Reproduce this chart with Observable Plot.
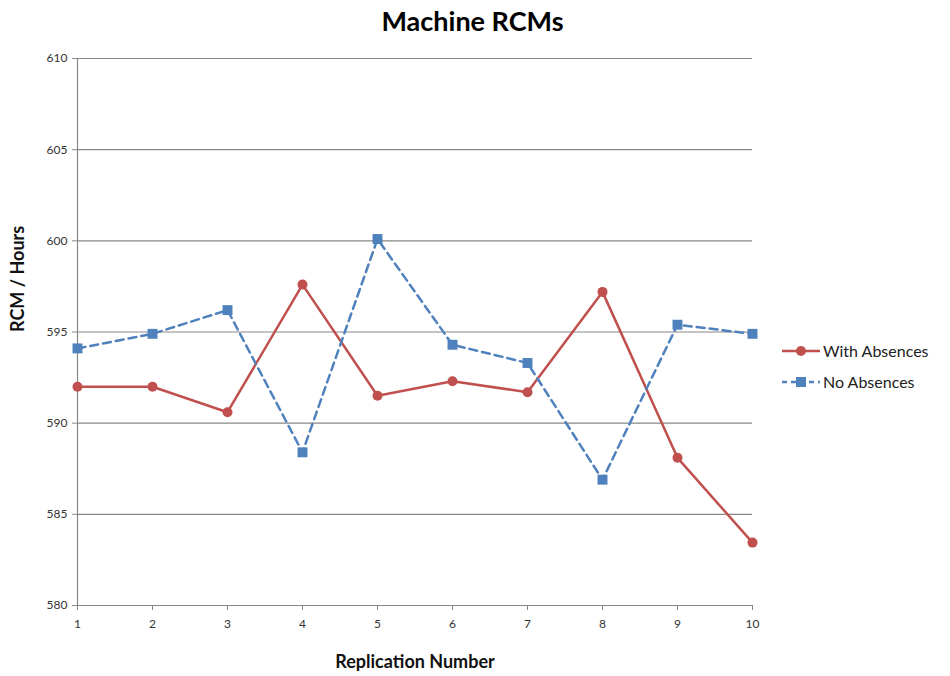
<!DOCTYPE html>
<html>
<head>
<meta charset="utf-8">
<script src="https://cdn.jsdelivr.net/npm/d3@7"></script>
<script src="https://cdn.jsdelivr.net/npm/@observablehq/plot@0.6"></script>
<style>
  body { margin: 0; background: #fff; font-family: Lato, "Open Sans", sans-serif; }
  #wrap { position: relative; width: 950px; height: 676px; }
  #title { position: absolute; left: 0; top: 4px; width: 945px; text-align: center; font-weight: bold; font-size: 27px; color: #000; }
  #chart { position: absolute; left: 0; top: 45px; }
  #legend { position: absolute; left: 782px; top: 335px; font-size: 16px; color: #222; }
  .li { display: flex; align-items: center; height: 31px; }
  .li svg { margin-right: 3px; }
</style>
</head>
<body>
<div id="wrap">
  <div id="title">Machine RCMs</div>
  <div id="chart"></div>
  <div id="legend"></div>
</div>
<script>
const replications = [1, 2, 3, 4, 5, 6, 7, 8, 9, 10];
const withAbsences = [592.0, 592.0, 590.6, 597.6, 591.5, 592.3, 591.7, 597.2, 588.1, 583.45];
const noAbsences = [594.1, 594.9, 596.2, 588.4, 600.1, 594.3, 593.3, 586.9, 595.4, 594.9];
const yTicks = [580, 585, 590, 595, 600, 605, 610];
const seriesNames = ["With Absences", "No Absences"];
const colors = ["#C0504D", "#4F81BD"];

const rows = [];
replications.forEach((r, i) => {
  rows.push({rep: r, value: withAbsences[i], series: seriesNames[0]});
  rows.push({rep: r, value: noAbsences[i], series: seriesNames[1]});
});
const red = rows.filter(d => d.series === seriesNames[0]);
const blue = rows.filter(d => d.series === seriesNames[1]);

const plot = Plot.plot({
  width: 950,
  height: 631,
  marginTop: 13,
  marginLeft: 77,
  marginRight: 198,
  marginBottom: 71,
  style: { fontFamily: "Lato, 'Open Sans', sans-serif", fontSize: "12px", color: "#333" },
  x: { type: "linear", domain: [1, 10] },
  y: { domain: [580, 610] },
  marks: [
    Plot.ruleY(yTicks.filter(t => t !== 580), { stroke: "#878787", strokeWidth: 1.2 }),
    Plot.ruleX([1], { stroke: "#878787", strokeWidth: 1.2 }),
    Plot.ruleY([580], { stroke: "#878787", strokeWidth: 1.2 }),
    Plot.axisY({ ticks: yTicks, tickSize: 5, tickPadding: 5, label: null, stroke: "#878787", fontSize: 12 }),
    Plot.axisX({ ticks: replications, tickSize: 5, tickPadding: 9, label: null, stroke: "#878787", fontSize: 12 }),
    Plot.text(["Replication Number"], { frameAnchor: "bottom", dy: 62, fontWeight: "bold", fontSize: 18, fill: "#111" }),
    Plot.text(["RCM / Hours"], { frameAnchor: "left", dx: -59, rotate: -90, fontWeight: "bold", fontSize: 18, fill: "#111" }),
    Plot.line(red, { x: "rep", y: "value", stroke: colors[0], strokeWidth: 2.5 }),
    Plot.dot(red, { x: "rep", y: "value", fill: colors[0], r: 5, symbol: "circle" }),
    Plot.line(blue, { x: "rep", y: "value", stroke: colors[1], strokeWidth: 2.5, strokeDasharray: "8,5" }),
    Plot.dot(blue, { x: "rep", y: "value", fill: colors[1], r: 5.6, symbol: "square" })
  ]
});
document.getElementById("chart").appendChild(plot);

const legend = document.getElementById("legend");
seriesNames.forEach((name, i) => {
  const row = document.createElement("div");
  row.className = "li";
  const marker = i === 0
    ? `<circle cx="19" cy="10" r="5" fill="${colors[0]}"/>`
    : `<rect x="14" y="5" width="10" height="10" fill="${colors[1]}"/>`;
  const dash = i === 0 ? "" : `stroke-dasharray="5,4"`;
  row.innerHTML = `<svg width="38" height="20"><line x1="0" x2="38" y1="10" y2="10" stroke="${colors[i]}" stroke-width="2.5" ${dash}/>${marker}</svg><span>${name}</span>`;
  legend.appendChild(row);
});
</script>
</body>
</html>
